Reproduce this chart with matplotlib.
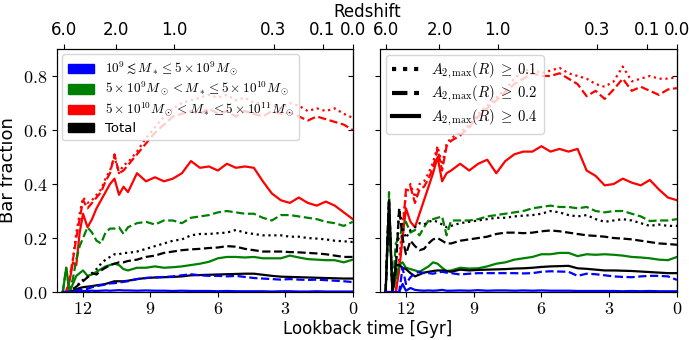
import numpy as np
import matplotlib
matplotlib.use('Agg')
import matplotlib.pyplot as plt
from matplotlib.patches import Patch
from matplotlib.lines import Line2D

plt.rcParams['mathtext.fontset'] = 'cm'
plt.rcParams['font.family'] = ['DejaVu Sans']

# lookback time grid [Gyr]
t_gyr = [12.9, 12.75, 12.6, 12.45, 12.3, 12.15, 12.0, 11.8, 11.6, 11.4, 11.2, 11.0, 10.8, 10.6, 10.4, 10.2,
         10.0, 9.6, 9.2, 8.8, 8.4, 8.0, 7.6, 7.2, 6.8, 6.4, 6.0, 5.6, 5.2, 4.8, 4.4, 4.0, 3.6, 3.2, 2.8,
         2.4, 2.0, 1.6, 1.2, 0.8, 0.4, 0.0]

# left panel
l_red_dot = [0, 0, 0.05, 0.12, 0.22, 0.29, 0.35, 0.33, 0.34, 0.36, 0.38, 0.42, 0.45, 0.50, 0.44, 0.47,
             0.48, 0.52, 0.57, 0.61, 0.65, 0.68, 0.70, 0.71, 0.72, 0.73, 0.72, 0.73, 0.71, 0.72, 0.70,
             0.70, 0.69, 0.68, 0.70, 0.69, 0.67, 0.68, 0.67, 0.68, 0.66, 0.645]
l_red_dash = [0, 0, 0.05, 0.12, 0.20, 0.27, 0.34, 0.31, 0.33, 0.35, 0.37, 0.41, 0.44, 0.51, 0.44, 0.45,
              0.47, 0.51, 0.55, 0.59, 0.62, 0.65, 0.66, 0.67, 0.66, 0.68, 0.66, 0.67, 0.65, 0.67, 0.66,
              0.65, 0.67, 0.66, 0.665, 0.65, 0.635, 0.65, 0.64, 0.63, 0.62, 0.60]
l_red_solid = [0, 0, 0.04, 0.11, 0.10, 0.22, 0.29, 0.24, 0.27, 0.31, 0.34, 0.37, 0.40, 0.42, 0.36, 0.39,
               0.37, 0.44, 0.41, 0.425, 0.41, 0.42, 0.44, 0.485, 0.46, 0.465, 0.45, 0.475, 0.46, 0.465,
               0.46, 0.41, 0.365, 0.34, 0.33, 0.35, 0.33, 0.32, 0.335, 0.32, 0.295, 0.27]
l_green_dash = [0, 0.09, 0, 0.05, 0.12, 0.17, 0.20, 0.24, 0.22, 0.19, 0.18, 0.22, 0.235, 0.235, 0.24, 0.215,
                0.24, 0.255, 0.26, 0.25, 0.265, 0.265, 0.255, 0.275, 0.28, 0.285, 0.295, 0.30, 0.295,
                0.29, 0.29, 0.275, 0.265, 0.285, 0.285, 0.28, 0.275, 0.27, 0.26, 0.255, 0.245, 0.26]
l_green_solid = [0, 0.09, 0, 0.03, 0.06, 0.07, 0.08, 0.06, 0.065, 0.075, 0.085, 0.095, 0.10, 0.105, 0.10,
                 0.085, 0.08, 0.09, 0.09, 0.095, 0.09, 0.092, 0.095, 0.10, 0.105, 0.112, 0.125, 0.13,
                 0.13, 0.128, 0.13, 0.125, 0.125, 0.125, 0.135, 0.128, 0.122, 0.12, 0.118, 0.118, 0.11, 0.12]
l_black_dot = [0, 0, 0, 0.01, 0.02, 0.035, 0.045, 0.055, 0.07, 0.085, 0.105, 0.12, 0.13, 0.14, 0.14, 0.145,
               0.145, 0.15, 0.16, 0.17, 0.18, 0.19, 0.195, 0.21, 0.215, 0.215, 0.218, 0.22, 0.23, 0.22,
               0.215, 0.21, 0.21, 0.21, 0.205, 0.205, 0.20, 0.198, 0.195, 0.19, 0.188, 0.185]
l_black_dash = [0, 0, 0, 0.01, 0.02, 0.03, 0.04, 0.055, 0.07, 0.065, 0.08, 0.09, 0.10, 0.105, 0.11, 0.11,
                0.115, 0.12, 0.13, 0.135, 0.145, 0.15, 0.155, 0.158, 0.16, 0.163, 0.165, 0.17, 0.168,
                0.16, 0.155, 0.15, 0.15, 0.15, 0.148, 0.147, 0.145, 0.143, 0.14, 0.135, 0.13, 0.13]
l_black_solid = [0, 0, 0, 0.005, 0.01, 0.015, 0.018, 0.02, 0.022, 0.025, 0.027, 0.03, 0.035, 0.04, 0.04,
                 0.04, 0.042, 0.048, 0.052, 0.054, 0.055, 0.056, 0.058, 0.062, 0.063, 0.064, 0.065, 0.066,
                 0.067, 0.068, 0.068, 0.064, 0.06, 0.057, 0.056, 0.055, 0.054, 0.053, 0.052, 0.051, 0.05, 0.05]
l_blue_dash = [0, 0, 0, 0, 0.005, 0.008, 0.01, 0.012, 0.018, 0.022, 0.025, 0.028, 0.032, 0.033, 0.035, 0.038,
               0.04, 0.048, 0.052, 0.054, 0.056, 0.058, 0.062, 0.066, 0.062, 0.06, 0.06, 0.058, 0.06,
               0.056, 0.052, 0.05, 0.048, 0.046, 0.048, 0.046, 0.045, 0.046, 0.044, 0.042, 0.04, 0.037]
l_blue_solid = [0, 0, 0, 0, 0.002, 0.003, 0.004, 0.004, 0.005, 0.004, 0.005, 0.006, 0.005, 0.006, 0.007,
                0.006, 0.006, 0.005, 0.006, 0.005, 0.005, 0.004, 0.005, 0.004, 0.004, 0.004, 0.003, 0.004,
                0.003, 0.003, 0.003, 0.003, 0.002, 0.003, 0.003, 0.002, 0.002, 0.003, 0.002, 0.002, 0.002, 0.002]

# right panel
r_red_dot = [0, 0, 0, 0, 0.12, 0.25, 0.36, 0.40, 0.35, 0.40, 0.41, 0.44, 0.48, 0.54, 0.47, 0.55,
             0.57, 0.59, 0.62, 0.66, 0.69, 0.72, 0.75, 0.79, 0.82, 0.825, 0.81, 0.82, 0.83, 0.81, 0.80,
             0.79, 0.77, 0.76, 0.78, 0.835, 0.78, 0.79, 0.80, 0.79, 0.79, 0.795]
r_red_dash = [0, 0, 0, 0, 0.10, 0.22, 0.38, 0.39, 0.33, 0.38, 0.39, 0.42, 0.46, 0.53, 0.45, 0.54,
              0.56, 0.58, 0.61, 0.65, 0.68, 0.71, 0.74, 0.77, 0.79, 0.81, 0.80, 0.80, 0.81, 0.79, 0.77,
              0.725, 0.745, 0.715, 0.75, 0.79, 0.745, 0.76, 0.745, 0.73, 0.75, 0.755]
r_red_solid = [0, 0, 0, 0, 0.08, 0.20, 0.31, 0.26, 0.24, 0.29, 0.34, 0.39, 0.44, 0.50, 0.41, 0.44,
               0.45, 0.475, 0.45, 0.475, 0.49, 0.44, 0.485, 0.51, 0.52, 0.52, 0.54, 0.52, 0.53, 0.52,
               0.53, 0.45, 0.43, 0.395, 0.40, 0.42, 0.405, 0.395, 0.415, 0.38, 0.35, 0.34]
r_green_dash = [0, 0.37, 0, 0.18, 0.20, 0.24, 0.26, 0.22, 0.23, 0.21, 0.24, 0.265, 0.27, 0.275, 0.28, 0.21,
                0.265, 0.265, 0.265, 0.27, 0.28, 0.285, 0.29, 0.295, 0.30, 0.31, 0.315, 0.32, 0.315,
                0.315, 0.31, 0.315, 0.30, 0.295, 0.30, 0.30, 0.29, 0.28, 0.263, 0.265, 0.265, 0.27]
r_green_solid = [0, 0.30, 0, 0.05, 0.10, 0.11, 0.09, 0.085, 0.08, 0.075, 0.085, 0.095, 0.11, 0.105, 0.09,
                 0.078, 0.08, 0.09, 0.087, 0.088, 0.095, 0.105, 0.11, 0.12, 0.125, 0.13, 0.14, 0.14,
                 0.145, 0.145, 0.133, 0.14, 0.138, 0.14, 0.138, 0.135, 0.13, 0.128, 0.125, 0.12, 0.118, 0.13]
r_black_dot = [0, 0.34, 0, 0.10, 0.31, 0.24, 0.20, 0.23, 0.24, 0.255, 0.25, 0.26, 0.265, 0.26, 0.25, 0.24,
               0.245, 0.255, 0.26, 0.265, 0.27, 0.275, 0.275, 0.28, 0.283, 0.285, 0.29, 0.30, 0.295,
               0.285, 0.28, 0.285, 0.27, 0.26, 0.265, 0.27, 0.265, 0.255, 0.245, 0.25, 0.245, 0.245]
r_black_dash = [0, 0.34, 0, 0.08, 0.31, 0.20, 0.14, 0.19, 0.17, 0.155, 0.16, 0.18, 0.195, 0.20, 0.19, 0.18,
                0.18, 0.19, 0.195, 0.20, 0.205, 0.215, 0.22, 0.22, 0.218, 0.22, 0.225, 0.228, 0.225,
                0.22, 0.215, 0.21, 0.208, 0.205, 0.20, 0.198, 0.195, 0.19, 0.185, 0.18, 0.178, 0.175]
r_black_solid = [0, 0.34, 0, 0.10, 0.10, 0.09, 0.085, 0.07, 0.058, 0.065, 0.072, 0.075, 0.078, 0.08, 0.08,
                 0.078, 0.075, 0.083, 0.08, 0.082, 0.083, 0.084, 0.085, 0.087, 0.088, 0.09, 0.093, 0.095,
                 0.096, 0.097, 0.088, 0.086, 0.083, 0.08, 0.08, 0.079, 0.078, 0.076, 0.074, 0.072, 0.07, 0.07]
r_blue_dash = [0, 0, 0, 0, 0, 0.09, 0.03, 0.055, 0.07, 0.075, 0.07, 0.07, 0.068, 0.072, 0.075, 0.072,
               0.07, 0.065, 0.068, 0.07, 0.07, 0.07, 0.07, 0.07, 0.069, 0.07, 0.075, 0.077, 0.076, 0.075,
               0.06, 0.068, 0.066, 0.062, 0.058, 0.056, 0.055, 0.058, 0.06, 0.06, 0.058, 0.045]
r_blue_solid = [0, 0, 0, 0, 0, 0.03, 0.005, 0.015, 0.008, 0.006, 0.005, 0.006, 0.005, 0.006, 0.008, 0.005,
                0.005, 0.006, 0.005, 0.007, 0.005, 0.006, 0.006, 0.005, 0.006, 0.005, 0.006, 0.005, 0.005,
                0.005, 0.004, 0.004, 0.004, 0.004, 0.004, 0.003, 0.004, 0.003, 0.004, 0.003, 0.003, 0.003]

mass_labels = [r'$10^9 \lesssim M_* \leq 5\times10^9 M_\odot$',
               r'$5\times10^9 M_\odot < M_* \leq 5\times10^{10} M_\odot$',
               r'$5\times10^{10} M_\odot < M_* \leq 5\times10^{11} M_\odot$',
               'Total']
thresh_labels = [r'$A_{2,\mathrm{max}}(R)\;\geq\;0.1$', r'$A_{2,\mathrm{max}}(R)\;\geq\;0.2$',
                 r'$A_{2,\mathrm{max}}(R)\;\geq\;0.4$']

z_ticks = [6.0, 2.0, 1.0, 0.3, 0.1, 0.0]
z_ticklabels = ['6.0', '2.0', '1.0', '0.3', '0.1', '0.0']
t_ticks = [12, 9, 6, 3, 0]
f_ticks = [0.0, 0.2, 0.4, 0.6, 0.8]


def lookback_time(z, h0=67.74, om=0.3089):
    # flat LCDM lookback time in Gyr
    if z == 0:
        return 0.0
    zz = np.linspace(0, z, 4000)
    integrand = 1.0 / ((1 + zz) * np.sqrt(om * (1 + zz) ** 3 + 1 - om))
    return 977.8 / h0 * np.trapezoid(integrand, zz)


def style_panel(ax, show_ylabels):
    ax.set_xlim(13.15, 0)
    ax.set_ylim(0, 0.9)
    ax.set_xticks(t_ticks)
    ax.set_xticklabels([f'${v}$' for v in t_ticks], fontsize=13)
    ax.tick_params(axis='x', pad=2)
    ax.set_yticks(f_ticks)
    if show_ylabels:
        ax.set_yticklabels([f'${v:.1f}$' for v in f_ticks], fontsize=13)
    else:
        ax.set_yticklabels([])
    sec = ax.secondary_yaxis('right')
    sec.set_yticks(f_ticks)
    sec.set_yticklabels([])
    sec.tick_params(direction='in')

    top = ax.twiny()
    top.set_xlim(ax.get_xlim())
    top.set_xticks([lookback_time(z) for z in z_ticks])
    top.set_xticklabels(z_ticklabels, fontsize=12)


def main():
    fig = plt.figure(figsize=(6.89, 3.40), dpi=100)
    ax1 = fig.add_axes([0.083, 0.141, 0.429, 0.715])
    ax2 = fig.add_axes([0.5515, 0.141, 0.431, 0.715])

    left = [(l_red_dot, 'red', ':'), (l_red_dash, 'red', '--'), (l_red_solid, 'red', '-'),
            (l_green_dash, 'green', '--'), (l_green_solid, 'green', '-'),
            (l_black_dot, 'black', ':'), (l_black_dash, 'black', '--'), (l_black_solid, 'black', '-'),
            (l_blue_dash, 'blue', '--'), (l_blue_solid, 'blue', '-')]
    right = [(r_red_dot, 'red', ':'), (r_red_dash, 'red', '--'), (r_red_solid, 'red', '-'),
             (r_green_dash, 'green', '--'), (r_green_solid, 'green', '-'),
             (r_black_dot, 'black', ':'), (r_black_dash, 'black', '--'), (r_black_solid, 'black', '-'),
             (r_blue_dash, 'blue', '--'), (r_blue_solid, 'blue', '-')]

    for vals, c, ls in left:
        ax1.plot(t_gyr, vals, color=c, ls=ls, lw=1.6)
    for vals, c, ls in right:
        ax2.plot(t_gyr, vals, color=c, ls=ls, lw=1.6)

    mass_handles = [Patch(color=c, label=lab) for c, lab in zip(['blue', 'green', 'red', 'black'], mass_labels)]
    ax1.legend(handles=mass_handles, loc='upper left', fontsize=9.5, labelspacing=0.2,
               borderaxespad=0.4)
    thresh_handles = [Line2D([], [], color='black', ls=ls, lw=3, label=lab)
                      for ls, lab in zip([':', '--', '-'], thresh_labels)]
    ax2.legend(handles=thresh_handles, loc='upper left', fontsize=10.5, labelspacing=0.25,
               handlelength=1.9, borderaxespad=0.4)

    style_panel(ax1, True)
    style_panel(ax2, False)

    ax1.set_ylabel('Bar fraction', fontsize=13)
    fig.text(0.533, 0.032, 'Lookback time [Gyr]', ha='center', va='center', fontsize=12)
    fig.text(0.533, 0.965, 'Redshift', ha='center', va='center', fontsize=12)

    fig.savefig('out.png', dpi=100)


if __name__ == "__main__":
    main()
